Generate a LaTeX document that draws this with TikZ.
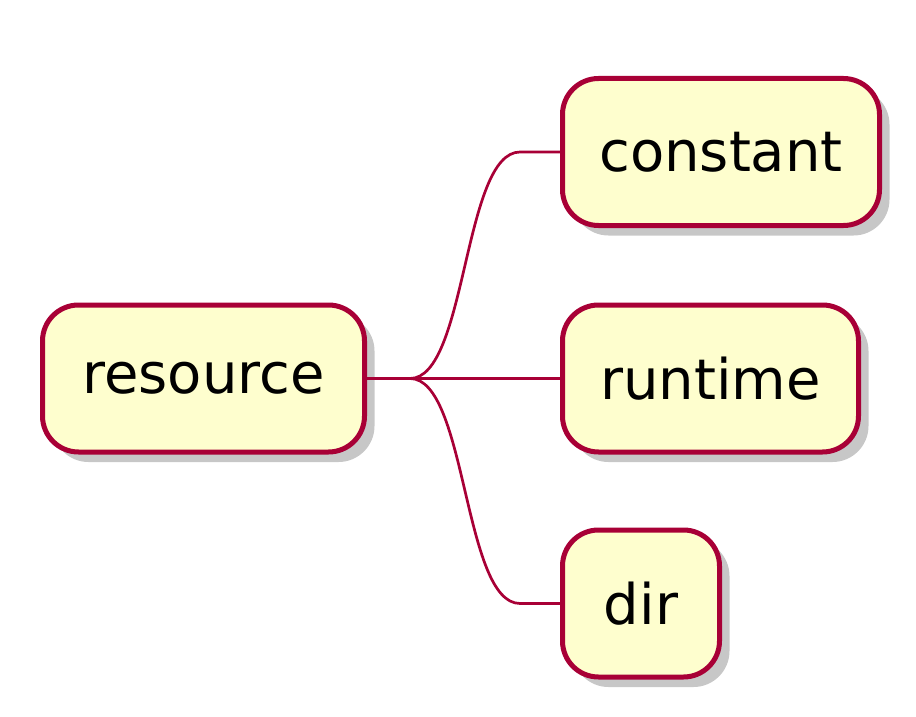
\documentclass[tikz,border=0pt]{standalone}
\usepackage{fontspec}
\setmainfont{DejaVu Sans}
\usepackage{tikz}
\usetikzlibrary{calc, shadows}
\definecolor{mapline}{HTML}{A80036}
\definecolor{mapfill}{HTML}{FEFECE}
\tikzset{
  topic/.style={draw=mapline, fill=mapfill, line width=2.5pt,
    rounded corners=18pt, minimum height=73.5pt, inner xsep=4pt,
    font=\fontsize{28}{33}\selectfont,
    drop shadow={shadow xshift=5pt, shadow yshift=-5pt, fill=black!40, opacity=0.55}},
  branch/.style={draw=mapline, line width=1.35pt}
}

\begin{document}
\begin{tikzpicture}[x=0.5pt, y=-0.5pt]
\useasboundingbox (0,0) rectangle (916,717);
\path (40,378.5) node[topic, anchor=west, minimum width=161pt] (resource) {resource};
\path (560,152) node[topic, anchor=west, minimum width=158.5pt] (constant) {constant};
\path (560,378.5) node[topic, anchor=west, minimum width=148pt] (runtime) {runtime};
\path (560,603.5) node[topic, anchor=west, minimum width=78.5pt] (dir) {dir};
\coordinate (fork) at ($(resource.east)+(43,0)$);
\foreach \child in {constant, runtime, dir} {
  \coordinate (\child-in) at ($(\child.west)+(-40,0)$);
  \draw[branch] (resource.east) -- (fork)
    .. controls +(57,0) and +(-57,0) .. (\child-in) -- (\child.west);
}
\end{tikzpicture}
\end{document}
